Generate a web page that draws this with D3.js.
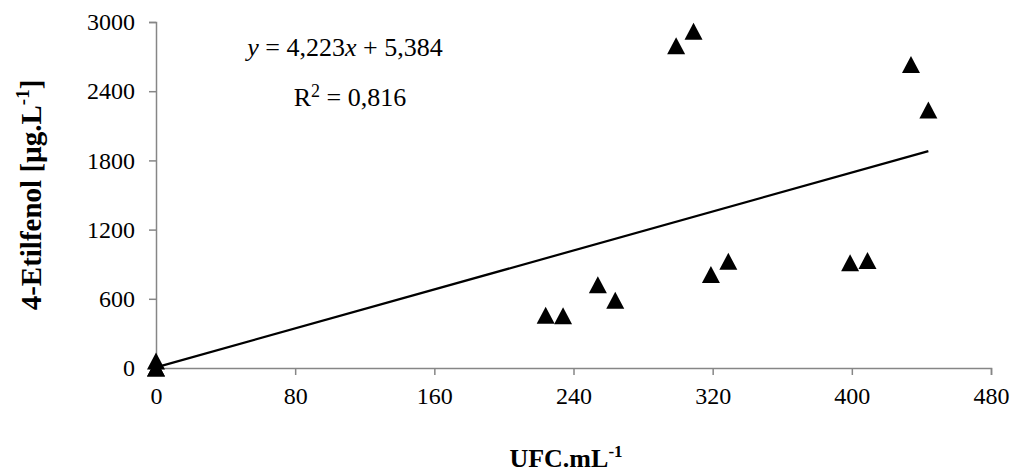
<!DOCTYPE html>
<html>
<head>
<meta charset="utf-8">
<script src="https://cdn.jsdelivr.net/npm/d3@7"></script>
<style>
  html, body { margin: 0; padding: 0; background: #fff; }
  svg { display: block; }
  text { font-family: "Liberation Serif", "Times New Roman", serif; fill: #000; }
</style>
</head>
<body>
<svg id="chart" width="1018" height="473"></svg>
<script>
// Colony counts (UFC/mL) and 4-ethylphenol concentrations (µg/L)
const ufc      = [0, 0, 0, 224, 234, 254, 264, 299, 309, 319, 329, 399, 409, 434, 444];
const etilfenol = [0, 0, 60, 458, 452, 722, 588, 2795, 2920, 810, 925, 912, 932, 2632, 2238];

const xTicks = [0, 80, 160, 240, 320, 400, 480];
const yTicks = [0, 600, 1200, 1800, 2400, 3000];

// Linear fit reported on the chart
const slope = 4.223;
const intercept = 5.384;
const r2 = 0.816;

const fmt = v => v.toFixed(3).replace(".", ",");

const svg = d3.select("#chart");
const margin = { left: 156, right: 27, top: 22, bottom: 105 };
const W = 1018, H = 473;

const x = d3.scaleLinear().domain([0, 480]).range([margin.left, W - margin.right]);
const y = d3.scaleLinear().domain([0, 3000]).range([H - margin.bottom, margin.top]);

const axisColor = "#868686";

// X axis
const gx = svg.append("g")
  .attr("transform", `translate(0,${y(0)})`)
  .call(d3.axisBottom(x).tickValues(xTicks).tickSize(7).tickPadding(12).tickFormat(d3.format("d")));
gx.select(".domain").attr("stroke", axisColor).attr("stroke-width", 1.5);
gx.selectAll(".tick line").attr("stroke", axisColor).attr("stroke-width", 1.5);
gx.selectAll(".tick text")
  .attr("font-family", "Liberation Serif")
  .attr("font-size", 24)
  .attr("fill", "#000");

// Y axis
const gy = svg.append("g")
  .attr("transform", `translate(${x(0)},0)`)
  .call(d3.axisLeft(y).tickValues(yTicks).tickSize(7).tickPadding(14).tickFormat(d3.format("d")));
gy.select(".domain").attr("stroke", axisColor).attr("stroke-width", 1.5);
gy.selectAll(".tick line").attr("stroke", axisColor).attr("stroke-width", 1.5);
gy.selectAll(".tick text")
  .attr("font-family", "Liberation Serif")
  .attr("font-size", 24)
  .attr("fill", "#000");

// Trend line over the range of the data
const xMin = d3.min(ufc), xMax = d3.max(ufc);
svg.append("line")
  .attr("x1", x(xMin)).attr("y1", y(slope * xMin + intercept))
  .attr("x2", x(xMax)).attr("y2", y(slope * xMax + intercept))
  .attr("stroke", "#000")
  .attr("stroke-width", 2.2);

// Triangle markers
const tw = 18, th = 17;
const tri = `M0,${-th / 2}L${tw / 2},${th / 2}L${-tw / 2},${th / 2}Z`;
svg.append("g")
  .selectAll("path")
  .data(ufc.map((u, i) => [u, etilfenol[i]]))
  .join("path")
  .attr("d", tri)
  .attr("transform", d => `translate(${x(d[0])},${y(d[1])})`)
  .attr("fill", "#000");

// Regression equation
const eq = svg.append("text")
  .attr("x", 345).attr("y", 56)
  .attr("text-anchor", "middle")
  .attr("font-size", 26);
eq.append("tspan").attr("font-style", "italic").text("y");
eq.append("tspan").text(` = ${fmt(slope)}`);
eq.append("tspan").attr("font-style", "italic").text("x");
eq.append("tspan").text(` + ${fmt(intercept)}`);

const rt = svg.append("text")
  .attr("x", 350).attr("y", 106)
  .attr("text-anchor", "middle")
  .attr("font-size", 26);
rt.append("tspan").text("R");
rt.append("tspan").attr("font-size", 18).attr("dy", -9).text("2");
rt.append("tspan").attr("dy", 9).text(` = ${fmt(r2)}`);

// Axis titles
const xt = svg.append("text")
  .attr("x", 566).attr("y", 467)
  .attr("text-anchor", "middle")
  .attr("font-weight", "bold")
  .attr("font-size", 26);
xt.append("tspan").text("UFC.mL");
xt.append("tspan").attr("font-size", 17).attr("dy", -10).text("-1");

const yt = svg.append("text")
  .attr("transform", "translate(41,195) rotate(-90)")
  .attr("text-anchor", "middle")
  .attr("font-weight", "bold")
  .attr("font-size", 29);
yt.append("tspan").text("4-Etilfenol [µg.L");
yt.append("tspan").attr("font-size", 19).attr("dy", -12).text("-1");
yt.append("tspan").attr("dy", 12).text("]");
</script>
</body>
</html>
